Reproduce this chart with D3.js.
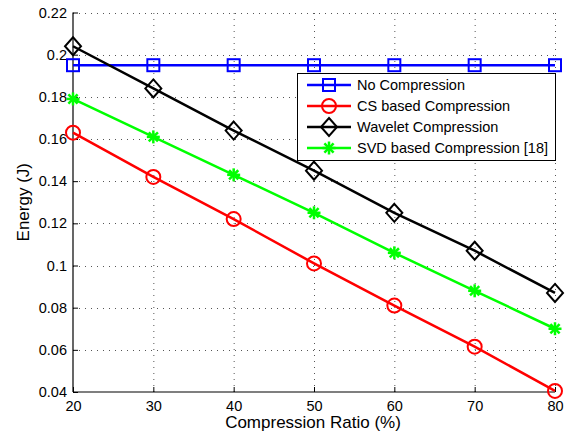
<!DOCTYPE html>
<html>
<head>
<meta charset="utf-8">
<script src="https://cdn.jsdelivr.net/npm/d3@7"></script>
<style>
  html, body { margin: 0; padding: 0; background: #fff; }
  svg { display: block; }
</style>
</head>
<body>
<script>
const fontFamily = "\"Liberation Sans\", Arial, Helvetica, sans-serif";

// data
const ratios = [20, 30, 40, 50, 60, 70, 80];
const noCompression = [0.195, 0.195, 0.195, 0.195, 0.195, 0.195, 0.195];
const csCompression = [0.163, 0.142, 0.122, 0.101, 0.081, 0.0615, 0.0405];
const waveletCompression = [0.204, 0.184, 0.164, 0.145, 0.125, 0.107, 0.087];
const svdCompression = [0.179, 0.161, 0.143, 0.125, 0.106, 0.088, 0.070];
const xTicks = [20, 30, 40, 50, 60, 70, 80];
const yTicks = [0.04, 0.06, 0.08, 0.1, 0.12, 0.14, 0.16, 0.18, 0.2, 0.22];

const series = [
    { name: "No Compression", values: noCompression, color: "#0000ff", marker: "square" },
    { name: "CS based Compression", values: csCompression, color: "#ff0000", marker: "circle" },
    { name: "Wavelet Compression", values: waveletCompression, color: "#000000", marker: "diamond" },
    { name: "SVD based Compression [18]", values: svdCompression, color: "#00ff00", marker: "star" }
];

const width = 568, height = 437;
const margin = { top: 12.5, right: 13, bottom: 45, left: 73 };

const svg = d3.select("body").append("svg")
    .attr("width", width)
    .attr("height", height)
    .style("font-family", fontFamily);

const x = d3.scaleLinear().domain([20, 80]).range([margin.left, width - margin.right]);
const y = d3.scaleLinear().domain([0.04, 0.22]).range([height - margin.bottom, margin.top]);

const fmt = v => String(+v.toFixed(2));

// grid
const grid = svg.append("g")
    .attr("stroke", "#555")
    .attr("stroke-width", 1)
    .attr("stroke-dasharray", "1,5");

grid.selectAll("line.gx")
    .data(xTicks.slice(1))
    .enter()
    .append("line")
    .attr("x1", d => x(d) + 0.5).attr("x2", d => x(d) + 0.5)
    .attr("y1", y(0.04)).attr("y2", y(0.22));

grid.selectAll("line.gy")
    .data(yTicks.slice(1))
    .enter()
    .append("line")
    .attr("x1", x(20)).attr("x2", x(80))
    .attr("y1", d => Math.round(y(d)) + 0.5).attr("y2", d => Math.round(y(d)) + 0.5);

// axes
const xAxis = d3.axisBottom(x).tickValues(xTicks).tickSize(-5).tickPadding(9).tickFormat(d => d);
const yAxis = d3.axisLeft(y).tickValues(yTicks).tickSize(-5).tickPadding(6).tickFormat(fmt);

const gx = svg.append("g")
    .attr("transform", `translate(0,${y(0.04)})`)
    .call(xAxis);
const gy = svg.append("g")
    .attr("transform", `translate(${x(20)},0)`)
    .call(yAxis);

[gx, gy].forEach(g => {
    g.select(".domain").attr("stroke", "#000").attr("stroke-width", 1.2).attr("d", null);
    g.selectAll(".tick line").attr("stroke", "#000");
    g.selectAll(".tick text")
        .attr("fill", "#000")
        .style("font-family", fontFamily)
        .style("font-size", "14.5px");
});
gx.select(".domain").attr("d", `M${x(20)},0H${x(80)}`);
gy.select(".domain").attr("d", `M0,${y(0.04)}V${y(0.22)}`);

// lines
const line = d3.line()
    .x((d, i) => x(ratios[i]))
    .y(d => y(d));

function drawMarker(g, type, color, cx, cy) {
    const m = g.append("g").attr("transform", `translate(${cx},${cy})`)
        .attr("fill", "none").attr("stroke", color).attr("stroke-width", 2);
    if (type === "square") {
        m.append("rect").attr("x", -6).attr("y", -6).attr("width", 12).attr("height", 12);
    } else if (type === "circle") {
        m.append("circle").attr("r", 7);
    } else if (type === "diamond") {
        m.append("path").attr("d", "M0,-9L8,0L0,9L-8,0Z");
    } else if (type === "star") {
        const r = 6.5;
        for (let k = 0; k < 4; k++) {
            const a = k * Math.PI / 4;
            m.append("line")
                .attr("x1", -r * Math.cos(a)).attr("y1", -r * Math.sin(a))
                .attr("x2", r * Math.cos(a)).attr("y2", r * Math.sin(a))
                .attr("stroke-width", 2.5);
        }
    }
}

const plot = svg.append("g");
series.forEach(s => {
    plot.append("path")
        .datum(s.values)
        .attr("fill", "none")
        .attr("stroke", s.color)
        .attr("stroke-width", 2.5)
        .attr("d", line);
    s.values.forEach((v, i) => drawMarker(plot, s.marker, s.color, x(ratios[i]), y(v)));
});

// legend
const legend = svg.append("g");
const lx0 = 297, ly0 = 73, lw = 258, lh = 87;
legend.append("rect")
    .attr("x", lx0 + 0.5).attr("y", ly0 + 0.5)
    .attr("width", lw).attr("height", lh)
    .attr("fill", "#fff").attr("stroke", "#000").attr("stroke-width", 1);

series.forEach((s, i) => {
    const ly = 85 + i * 21;
    legend.append("line")
        .attr("x1", lx0 + 10).attr("x2", lx0 + 54)
        .attr("y1", ly).attr("y2", ly)
        .attr("stroke", s.color).attr("stroke-width", 2.5);
    drawMarker(legend, s.marker, s.color, lx0 + 32, ly);
    legend.append("text")
        .attr("x", lx0 + 60).attr("y", ly + 5)
        .style("font-size", "14.5px")
        .text(s.name);
});

// axis titles
svg.append("text")
    .attr("x", (x(20) + x(80)) / 2 - 1).attr("y", 428)
    .attr("text-anchor", "middle")
    .style("font-size", "17px")
    .text("Compression Ratio (%)");

svg.append("text")
    .attr("transform", `translate(29,${(y(0.04) + y(0.22)) / 2}) rotate(-90)`)
    .attr("text-anchor", "middle")
    .style("font-size", "17px")
    .text("Energy (J)");
</script>
</body>
</html>
